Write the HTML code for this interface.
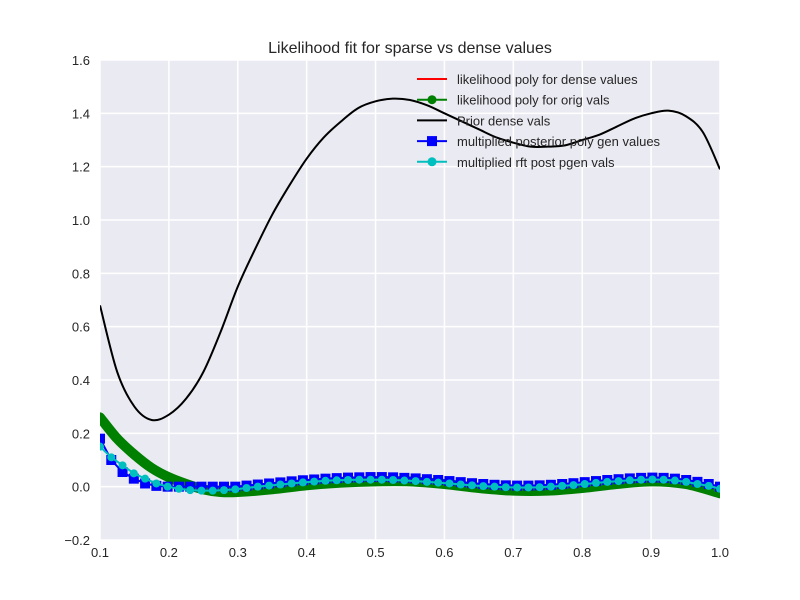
<!DOCTYPE html>
<html><head><meta charset="utf-8"><style>
body{margin:0;background:#fff;}
svg{display:block;font-family:"Liberation Sans","DejaVu Sans",sans-serif;}
</style></head><body>
<svg id="chart" width="800" height="600">
<rect x="100" y="60" width="620" height="480" fill="#eaeaf2"/>
<g id="grid"></g>
<g id="series"></g>
<g id="ticks"></g>
<text x="410" y="53" text-anchor="middle" font-size="16" fill="#262626">Likelihood fit for sparse vs dense values</text>
<g id="legend"></g>
</svg>
<script>
const xTicks=[0.1,0.2,0.3,0.4,0.5,0.6,0.7,0.8,0.9,1.0];
const xTickLabels=["0.1","0.2","0.3","0.4","0.5","0.6","0.7","0.8","0.9","1.0"];
const yTicks=[-0.2,0,0.2,0.4,0.6,0.8,1.0,1.2,1.4,1.6];
const yTickLabels=["\u22120.2","0.0","0.2","0.4","0.6","0.8","1.0","1.2","1.4","1.6"];
const priorX=[0.1,0.125,0.15,0.175,0.2,0.225,0.25,0.275,0.3,0.325,0.35,0.375,0.4,0.425,0.45,0.475,0.5,0.525,0.55,0.575,0.6,0.625,0.65,0.675,0.7,0.725,0.75,0.775,0.8,0.825,0.85,0.875,0.9,0.925,0.95,0.975,1.0];
const priorY=[0.68,0.43,0.30,0.25,0.27,0.33,0.43,0.58,0.75,0.89,1.02,1.13,1.23,1.31,1.37,1.42,1.445,1.455,1.45,1.43,1.40,1.37,1.34,1.31,1.29,1.275,1.275,1.28,1.30,1.32,1.35,1.38,1.40,1.41,1.39,1.33,1.19];
const likeX=[0.1,0.125,0.15,0.175,0.2,0.225,0.25,0.275,0.3,0.35,0.4,0.45,0.5,0.55,0.6,0.65,0.7,0.75,0.8,0.85,0.9,0.95,1.0];
const likeY=[0.26,0.18,0.12,0.07,0.035,0.01,-0.01,-0.02,-0.02,-0.01,0.005,0.015,0.02,0.02,0.01,-0.005,-0.015,-0.015,-0.005,0.01,0.02,0.01,-0.025];
const postY=[0.18,0.10,0.055,0.03,0.012,0.003,0.0,0.0,0.0,0.0,0.0,0.0,0.0,0.004,0.008,0.012,0.016,0.02,0.024,0.027,0.03,0.032,0.034,0.035,0.036,0.036,0.035,0.033,0.031,0.028,0.025,0.021,0.017,0.013,0.01,0.007,0.005,0.004,0.004,0.005,0.007,0.01,0.013,0.017,0.021,0.025,0.028,0.031,0.033,0.034,0.033,0.03,0.025,0.018,0.01,0.0];
const rftY=[0.15,0.11,0.08,0.05,0.03,0.012,0.0,-0.008,-0.013,-0.015,-0.015,-0.013,-0.01,-0.005,0.0,0.004,0.008,0.012,0.016,0.019,0.022,0.024,0.025,0.026,0.026,0.026,0.025,0.023,0.021,0.018,0.015,0.012,0.008,0.005,0.002,0.0,-0.002,-0.003,-0.003,-0.002,0.0,0.003,0.006,0.01,0.014,0.018,0.021,0.024,0.026,0.027,0.026,0.023,0.018,0.01,0.003,-0.008];
const NS="http://www.w3.org/2000/svg";
function sx(v){return 100+(v-0.1)/0.9*620;}
function sy(v){return 540-(v+0.2)/1.8*480;}
function mk(tag,attrs,parent){const e=document.createElementNS(NS,tag);for(const k in attrs)e.setAttribute(k,attrs[k]);parent.appendChild(e);return e;}
const grid=document.getElementById('grid'),ticks=document.getElementById('ticks'),ser=document.getElementById('series'),leg=document.getElementById('legend');
xTicks.forEach((t,i)=>{
 const l=mk('line',{x1:sx(t),x2:sx(t),y1:60,y2:540,stroke:'#fff','stroke-width':1.5},grid);
 
 
 const tx=mk('text',{x:sx(t),y:557,'text-anchor':'middle','font-size':13,fill:'#262626'},ticks);
 tx.textContent=xTickLabels[i];
 
 
});
yTicks.forEach((t,i)=>{
 const l=mk('line',{x1:100,x2:720,y1:sy(t),y2:sy(t),stroke:'#fff','stroke-width':1.5},grid);
 
 
 const tx=mk('text',{x:90,y:sy(t)+5,'text-anchor':'end','font-size':13,fill:'#262626'},ticks);
 tx.textContent=yTickLabels[i];
 
 
});
const cp=document.createElementNS(NS,'clipPath');cp.setAttribute('id','clip');
mk('rect',{x:100,y:60,width:620,height:480},cp);document.getElementById('chart').appendChild(cp);
ser.setAttribute('clip-path','url(#clip)');
function pts(xs,ys){return xs.map((x,i)=>sx(x)+','+sy(ys[i])).join(' ');}
function smooth(xs,ys){
 const P=xs.map((x,i)=>[sx(x),sy(ys[i])]);
 let d='M'+P[0][0]+','+P[0][1];
 for(let i=0;i<P.length-1;i++){
  const p0=P[Math.max(0,i-1)],p1=P[i],p2=P[i+1],p3=P[Math.min(P.length-1,i+2)];
  const c1=[p1[0]+(p2[0]-p0[0])/6,p1[1]+(p2[1]-p0[1])/6];
  const c2=[p2[0]-(p3[0]-p1[0])/6,p2[1]-(p3[1]-p1[1])/6];
  d+=' C'+c1.join(',')+' '+c2.join(',')+' '+p2.join(',');
 }
 return d;
}
const sparseX=postY.map((_,i)=>0.1+i*0.9/(postY.length-1));
const g=mk('path',{d:smooth(likeX,likeY),fill:'none',stroke:'#008000','stroke-width':10,'stroke-linejoin':'round','stroke-linecap':'round'},ser);


const b=mk('polyline',{points:pts(sparseX,postY),fill:'none',stroke:'#0000ff','stroke-width':2},ser);


sparseX.forEach((x,i)=>{const r=mk('rect',{x:sx(x)-5,y:sy(postY[i])-5,width:10,height:10,fill:'#0000ff'},ser);
 
 });
const c=mk('polyline',{points:pts(sparseX,rftY),fill:'none',stroke:'#00bfbf','stroke-width':2},ser);


sparseX.forEach((x,i)=>{const r=mk('circle',{cx:sx(x),cy:sy(rftY[i]),r:4,fill:'#00bfbf'},ser);
 
 });
const p=mk('path',{d:smooth(priorX,priorY),fill:'none',stroke:'#000','stroke-width':2,'stroke-linejoin':'round'},ser);


const legItems=[["likelihood poly for dense values","#ff0000",null],["likelihood poly for orig vals","#008000","circle"],["Prior dense vals","#000",null],["multiplied posterior poly gen values","#0000ff","square"],["multiplied rft post pgen vals","#00bfbf","circle"]];
legItems.forEach((it,i)=>{
 const y=79+i*20.7;
 const gg=mk('g',{},leg);
 
 
 mk('line',{x1:417,x2:447,y1:y,y2:y,stroke:it[1],'stroke-width':2},gg);
 if(it[2]==='circle')mk('circle',{cx:432,cy:y,r:4.5,fill:it[1]},gg);
 if(it[2]==='square')mk('rect',{x:427,y:y-5,width:10,height:10,fill:it[1]},gg);
 const t=mk('text',{x:457,y:y+5,'font-size':13,fill:'#262626'},gg);t.textContent=it[0];
});
</script>
</body></html>
